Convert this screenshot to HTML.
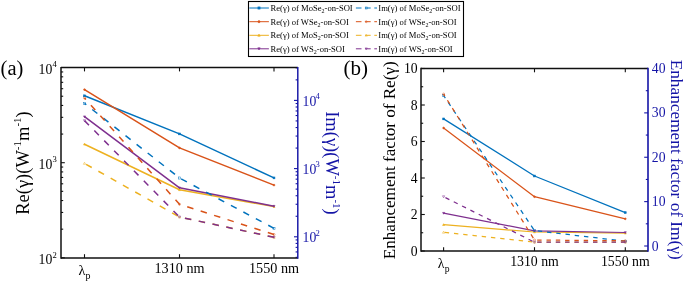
<!DOCTYPE html>
<html><head><meta charset="utf-8"><style>
html,body{margin:0;padding:0;background:#fff;width:685px;height:282px;overflow:hidden}
svg{display:block;font-family:"Liberation Serif", serif;will-change:transform}
</style></head><body>
<svg width="685" height="282" viewBox="0 0 685 282">
<rect width="685" height="282" fill="#fff"/>
<line x1="61.00" y1="257.80" x2="64.80" y2="257.80" stroke="#101010" stroke-width="1.1" />
<line x1="61.00" y1="229.17" x2="63.20" y2="229.17" stroke="#101010" stroke-width="1.1" />
<line x1="61.00" y1="212.43" x2="63.20" y2="212.43" stroke="#101010" stroke-width="1.1" />
<line x1="61.00" y1="200.54" x2="63.20" y2="200.54" stroke="#101010" stroke-width="1.1" />
<line x1="61.00" y1="191.33" x2="63.20" y2="191.33" stroke="#101010" stroke-width="1.1" />
<line x1="61.00" y1="183.80" x2="63.20" y2="183.80" stroke="#101010" stroke-width="1.1" />
<line x1="61.00" y1="177.43" x2="63.20" y2="177.43" stroke="#101010" stroke-width="1.1" />
<line x1="61.00" y1="171.92" x2="63.20" y2="171.92" stroke="#101010" stroke-width="1.1" />
<line x1="61.00" y1="167.05" x2="63.20" y2="167.05" stroke="#101010" stroke-width="1.1" />
<line x1="61.00" y1="162.70" x2="64.80" y2="162.70" stroke="#101010" stroke-width="1.1" />
<line x1="61.00" y1="134.07" x2="63.20" y2="134.07" stroke="#101010" stroke-width="1.1" />
<line x1="61.00" y1="117.33" x2="63.20" y2="117.33" stroke="#101010" stroke-width="1.1" />
<line x1="61.00" y1="105.44" x2="63.20" y2="105.44" stroke="#101010" stroke-width="1.1" />
<line x1="61.00" y1="96.23" x2="63.20" y2="96.23" stroke="#101010" stroke-width="1.1" />
<line x1="61.00" y1="88.70" x2="63.20" y2="88.70" stroke="#101010" stroke-width="1.1" />
<line x1="61.00" y1="82.33" x2="63.20" y2="82.33" stroke="#101010" stroke-width="1.1" />
<line x1="61.00" y1="76.82" x2="63.20" y2="76.82" stroke="#101010" stroke-width="1.1" />
<line x1="61.00" y1="71.95" x2="63.20" y2="71.95" stroke="#101010" stroke-width="1.1" />
<line x1="297.80" y1="257.33" x2="295.60" y2="257.33" stroke="#1414a6" stroke-width="1.1" />
<line x1="297.80" y1="251.93" x2="295.60" y2="251.93" stroke="#1414a6" stroke-width="1.1" />
<line x1="297.80" y1="247.36" x2="295.60" y2="247.36" stroke="#1414a6" stroke-width="1.1" />
<line x1="297.80" y1="243.41" x2="295.60" y2="243.41" stroke="#1414a6" stroke-width="1.1" />
<line x1="297.80" y1="239.92" x2="295.60" y2="239.92" stroke="#1414a6" stroke-width="1.1" />
<line x1="297.80" y1="236.80" x2="294.00" y2="236.80" stroke="#1414a6" stroke-width="1.1" />
<line x1="297.80" y1="216.27" x2="295.60" y2="216.27" stroke="#1414a6" stroke-width="1.1" />
<line x1="297.80" y1="204.26" x2="295.60" y2="204.26" stroke="#1414a6" stroke-width="1.1" />
<line x1="297.80" y1="195.74" x2="295.60" y2="195.74" stroke="#1414a6" stroke-width="1.1" />
<line x1="297.80" y1="189.13" x2="295.60" y2="189.13" stroke="#1414a6" stroke-width="1.1" />
<line x1="297.80" y1="183.73" x2="295.60" y2="183.73" stroke="#1414a6" stroke-width="1.1" />
<line x1="297.80" y1="179.16" x2="295.60" y2="179.16" stroke="#1414a6" stroke-width="1.1" />
<line x1="297.80" y1="175.21" x2="295.60" y2="175.21" stroke="#1414a6" stroke-width="1.1" />
<line x1="297.80" y1="171.72" x2="295.60" y2="171.72" stroke="#1414a6" stroke-width="1.1" />
<line x1="297.80" y1="168.60" x2="294.00" y2="168.60" stroke="#1414a6" stroke-width="1.1" />
<line x1="297.80" y1="148.07" x2="295.60" y2="148.07" stroke="#1414a6" stroke-width="1.1" />
<line x1="297.80" y1="136.06" x2="295.60" y2="136.06" stroke="#1414a6" stroke-width="1.1" />
<line x1="297.80" y1="127.54" x2="295.60" y2="127.54" stroke="#1414a6" stroke-width="1.1" />
<line x1="297.80" y1="120.93" x2="295.60" y2="120.93" stroke="#1414a6" stroke-width="1.1" />
<line x1="297.80" y1="115.53" x2="295.60" y2="115.53" stroke="#1414a6" stroke-width="1.1" />
<line x1="297.80" y1="110.96" x2="295.60" y2="110.96" stroke="#1414a6" stroke-width="1.1" />
<line x1="297.80" y1="107.01" x2="295.60" y2="107.01" stroke="#1414a6" stroke-width="1.1" />
<line x1="297.80" y1="103.52" x2="295.60" y2="103.52" stroke="#1414a6" stroke-width="1.1" />
<line x1="297.80" y1="100.40" x2="294.00" y2="100.40" stroke="#1414a6" stroke-width="1.1" />
<line x1="297.80" y1="79.87" x2="295.60" y2="79.87" stroke="#1414a6" stroke-width="1.1" />
<line x1="297.80" y1="67.86" x2="295.60" y2="67.86" stroke="#1414a6" stroke-width="1.1" />
<line x1="84.50" y1="258.00" x2="84.50" y2="254.20" stroke="#101010" stroke-width="1.1" />
<line x1="84.50" y1="67.60" x2="84.50" y2="71.40" stroke="#101010" stroke-width="1.1" />
<line x1="179.50" y1="258.00" x2="179.50" y2="254.20" stroke="#101010" stroke-width="1.1" />
<line x1="179.50" y1="67.60" x2="179.50" y2="71.40" stroke="#101010" stroke-width="1.1" />
<line x1="274.00" y1="258.00" x2="274.00" y2="254.20" stroke="#101010" stroke-width="1.1" />
<line x1="274.00" y1="67.60" x2="274.00" y2="71.40" stroke="#101010" stroke-width="1.1" />
<line x1="61.00" y1="67.60" x2="297.80" y2="67.60" stroke="#101010" stroke-width="1.5" />
<line x1="61.00" y1="258.00" x2="297.80" y2="258.00" stroke="#101010" stroke-width="1.6" />
<line x1="61.00" y1="66.90" x2="61.00" y2="258.70" stroke="#101010" stroke-width="1.5" />
<line x1="297.80" y1="66.90" x2="297.80" y2="258.70" stroke="#1414a6" stroke-width="1.45" />
<polyline points="84.50,95.80 179.50,133.90 274.00,177.90" fill="none" stroke="#0072BD" stroke-width="1.5" stroke-linejoin="round"/>
<rect x="83.60" y="94.90" width="1.80" height="1.80" fill="#0072BD" stroke="#0072BD" stroke-width="0.6"/>
<rect x="178.60" y="133.00" width="1.80" height="1.80" fill="#0072BD" stroke="#0072BD" stroke-width="0.6"/>
<rect x="273.10" y="177.00" width="1.80" height="1.80" fill="#0072BD" stroke="#0072BD" stroke-width="0.6"/>
<polyline points="84.50,89.60 179.50,147.90 274.00,185.10" fill="none" stroke="#D95319" stroke-width="1.5" stroke-linejoin="round"/>
<circle cx="84.50" cy="89.60" r="0.90" fill="#D95319" stroke="#D95319" stroke-width="0.6"/>
<circle cx="179.50" cy="147.90" r="0.90" fill="#D95319" stroke="#D95319" stroke-width="0.6"/>
<circle cx="274.00" cy="185.10" r="0.90" fill="#D95319" stroke="#D95319" stroke-width="0.6"/>
<polyline points="84.50,144.20 179.50,189.80 274.00,206.60" fill="none" stroke="#EDB120" stroke-width="1.5" stroke-linejoin="round"/>
<polygon points="84.50,143.20 85.50,145.00 83.50,145.00" fill="#EDB120" stroke="#EDB120" stroke-width="0.6"/>
<polygon points="179.50,188.80 180.50,190.60 178.50,190.60" fill="#EDB120" stroke="#EDB120" stroke-width="0.6"/>
<polygon points="274.00,205.60 275.00,207.40 273.00,207.40" fill="#EDB120" stroke="#EDB120" stroke-width="0.6"/>
<polyline points="84.50,116.70 179.50,187.80 274.00,206.20" fill="none" stroke="#7E2F8E" stroke-width="1.5" stroke-linejoin="round"/>
<polygon points="84.50,117.70 85.50,115.90 83.50,115.90" fill="#7E2F8E" stroke="#7E2F8E" stroke-width="0.6"/>
<polygon points="179.50,188.80 180.50,187.00 178.50,187.00" fill="#7E2F8E" stroke="#7E2F8E" stroke-width="0.6"/>
<polygon points="274.00,207.20 275.00,205.40 273.00,205.40" fill="#7E2F8E" stroke="#7E2F8E" stroke-width="0.6"/>
<polyline points="274.00,228.30 179.50,178.00 84.50,103.40" fill="none" stroke="#0072BD" stroke-width="1.5" stroke-dasharray="6.5 7.6" stroke-linejoin="round"/>
<rect x="83.47" y="102.37" width="2.07" height="2.07" fill="none" stroke="#0072BD" stroke-width="0.5"/>
<rect x="178.47" y="176.97" width="2.07" height="2.07" fill="none" stroke="#0072BD" stroke-width="0.5"/>
<rect x="272.96" y="227.27" width="2.07" height="2.07" fill="none" stroke="#0072BD" stroke-width="0.5"/>
<polyline points="274.00,234.50 179.50,204.30 84.50,98.00" fill="none" stroke="#D95319" stroke-width="1.5" stroke-dasharray="6.5 7.6" stroke-linejoin="round"/>
<circle cx="84.50" cy="98.00" r="1.03" fill="none" stroke="#D95319" stroke-width="0.5"/>
<circle cx="179.50" cy="204.30" r="1.03" fill="none" stroke="#D95319" stroke-width="0.5"/>
<circle cx="274.00" cy="234.50" r="1.03" fill="none" stroke="#D95319" stroke-width="0.5"/>
<polyline points="274.00,237.30 179.50,217.00 84.50,163.40" fill="none" stroke="#EDB120" stroke-width="1.5" stroke-dasharray="6.5 7.6" stroke-linejoin="round"/>
<polygon points="84.50,162.25 85.65,164.32 83.35,164.32" fill="none" stroke="#EDB120" stroke-width="0.5"/>
<polygon points="179.50,215.85 180.65,217.92 178.35,217.92" fill="none" stroke="#EDB120" stroke-width="0.5"/>
<polygon points="274.00,236.15 275.15,238.22 272.85,238.22" fill="none" stroke="#EDB120" stroke-width="0.5"/>
<polyline points="274.00,237.30 179.50,217.00 84.50,120.60" fill="none" stroke="#7E2F8E" stroke-width="1.5" stroke-dasharray="6.5 7.6" stroke-linejoin="round"/>
<polygon points="84.50,121.75 85.65,119.68 83.35,119.68" fill="none" stroke="#7E2F8E" stroke-width="0.5"/>
<polygon points="179.50,218.15 180.65,216.08 178.35,216.08" fill="none" stroke="#7E2F8E" stroke-width="0.5"/>
<polygon points="274.00,238.45 275.15,236.38 272.85,236.38" fill="none" stroke="#7E2F8E" stroke-width="0.5"/>
<text x="52.3" y="264.00" font-size="13.7" text-anchor="end" fill="#000">10</text>
<text x="52.6" y="257.50" font-size="8.6" fill="#000">2</text>
<text x="52.3" y="168.90" font-size="13.7" text-anchor="end" fill="#000">10</text>
<text x="52.6" y="162.40" font-size="8.6" fill="#000">3</text>
<text x="52.3" y="73.80" font-size="13.7" text-anchor="end" fill="#000">10</text>
<text x="52.6" y="67.30" font-size="8.6" fill="#000">4</text>
<text x="302.6" y="242.10" font-size="13.7" fill="#1414a6">10</text>
<text x="315.6" y="235.50" font-size="8.6" fill="#1414a6">2</text>
<text x="302.6" y="173.90" font-size="13.7" fill="#1414a6">10</text>
<text x="315.6" y="167.30" font-size="8.6" fill="#1414a6">3</text>
<text x="302.6" y="105.70" font-size="13.7" fill="#1414a6">10</text>
<text x="315.6" y="99.10" font-size="8.6" fill="#1414a6">4</text>
<text x="78.60" y="275.20" font-size="14.2" fill="#000">λ</text>
<text x="85.60" y="279.20" font-size="9.94" fill="#000">p</text>
<text x="179.50" y="273.40" font-size="14.2" text-anchor="middle" fill="#000">1310 nm</text>
<text x="274.00" y="273.40" font-size="14.2" text-anchor="middle" fill="#000">1550 nm</text>
<text x="28.6" y="163" font-size="18.5" text-anchor="middle" fill="#000" transform="rotate(-90 28.6 163)">Re(γ)(W<tspan font-size="11" dy="-7.8">-1</tspan><tspan dy="7.8">m</tspan><tspan font-size="11" dy="-7.8">-1</tspan><tspan dy="7.8">)</tspan></text>
<text x="325.6" y="163" font-size="18.5" text-anchor="middle" fill="#1414a6" transform="rotate(90 325.6 163)">Im(γ)(W<tspan font-size="11" dy="-7.8">-1</tspan><tspan dy="7.8">m</tspan><tspan font-size="11" dy="-7.8">-1</tspan><tspan dy="7.8">)</tspan></text>
<text x="0.6" y="74.7" font-size="20.5" fill="#000">(a)</text>
<line x1="421.00" y1="251.00" x2="424.80" y2="251.00" stroke="#101010" stroke-width="1.1" />
<line x1="421.00" y1="232.75" x2="423.20" y2="232.75" stroke="#101010" stroke-width="1.1" />
<line x1="421.00" y1="214.50" x2="424.80" y2="214.50" stroke="#101010" stroke-width="1.1" />
<line x1="421.00" y1="196.25" x2="423.20" y2="196.25" stroke="#101010" stroke-width="1.1" />
<line x1="421.00" y1="178.00" x2="424.80" y2="178.00" stroke="#101010" stroke-width="1.1" />
<line x1="421.00" y1="159.75" x2="423.20" y2="159.75" stroke="#101010" stroke-width="1.1" />
<line x1="421.00" y1="141.50" x2="424.80" y2="141.50" stroke="#101010" stroke-width="1.1" />
<line x1="421.00" y1="123.25" x2="423.20" y2="123.25" stroke="#101010" stroke-width="1.1" />
<line x1="421.00" y1="105.00" x2="424.80" y2="105.00" stroke="#101010" stroke-width="1.1" />
<line x1="421.00" y1="86.75" x2="423.20" y2="86.75" stroke="#101010" stroke-width="1.1" />
<line x1="421.00" y1="68.50" x2="424.80" y2="68.50" stroke="#101010" stroke-width="1.1" />
<line x1="648.00" y1="246.00" x2="644.20" y2="246.00" stroke="#1414a6" stroke-width="1.1" />
<line x1="648.00" y1="223.81" x2="645.80" y2="223.81" stroke="#1414a6" stroke-width="1.1" />
<line x1="648.00" y1="201.62" x2="644.20" y2="201.62" stroke="#1414a6" stroke-width="1.1" />
<line x1="648.00" y1="179.44" x2="645.80" y2="179.44" stroke="#1414a6" stroke-width="1.1" />
<line x1="648.00" y1="157.25" x2="644.20" y2="157.25" stroke="#1414a6" stroke-width="1.1" />
<line x1="648.00" y1="135.06" x2="645.80" y2="135.06" stroke="#1414a6" stroke-width="1.1" />
<line x1="648.00" y1="112.88" x2="644.20" y2="112.88" stroke="#1414a6" stroke-width="1.1" />
<line x1="648.00" y1="90.69" x2="645.80" y2="90.69" stroke="#1414a6" stroke-width="1.1" />
<line x1="648.00" y1="68.50" x2="644.20" y2="68.50" stroke="#1414a6" stroke-width="1.1" />
<line x1="443.60" y1="251.00" x2="443.60" y2="247.20" stroke="#101010" stroke-width="1.1" />
<line x1="443.60" y1="68.50" x2="443.60" y2="72.30" stroke="#101010" stroke-width="1.1" />
<line x1="534.50" y1="251.00" x2="534.50" y2="247.20" stroke="#101010" stroke-width="1.1" />
<line x1="534.50" y1="68.50" x2="534.50" y2="72.30" stroke="#101010" stroke-width="1.1" />
<line x1="625.30" y1="251.00" x2="625.30" y2="247.20" stroke="#101010" stroke-width="1.1" />
<line x1="625.30" y1="68.50" x2="625.30" y2="72.30" stroke="#101010" stroke-width="1.1" />
<line x1="421.00" y1="68.50" x2="648.00" y2="68.50" stroke="#101010" stroke-width="1.4" />
<line x1="421.00" y1="251.00" x2="648.00" y2="251.00" stroke="#101010" stroke-width="1.4" />
<line x1="421.00" y1="67.80" x2="421.00" y2="251.70" stroke="#101010" stroke-width="1.5" />
<line x1="648.00" y1="67.80" x2="648.00" y2="251.70" stroke="#1414a6" stroke-width="1.6" />
<polyline points="443.60,118.90 534.50,176.00 625.30,212.60" fill="none" stroke="#0072BD" stroke-width="1.25" stroke-linejoin="round"/>
<rect x="442.70" y="118.00" width="1.80" height="1.80" fill="#0072BD" stroke="#0072BD" stroke-width="0.6"/>
<rect x="533.60" y="175.10" width="1.80" height="1.80" fill="#0072BD" stroke="#0072BD" stroke-width="0.6"/>
<rect x="624.40" y="211.70" width="1.80" height="1.80" fill="#0072BD" stroke="#0072BD" stroke-width="0.6"/>
<polyline points="443.60,128.00 534.50,196.70 625.30,218.80" fill="none" stroke="#D95319" stroke-width="1.25" stroke-linejoin="round"/>
<circle cx="443.60" cy="128.00" r="0.90" fill="#D95319" stroke="#D95319" stroke-width="0.6"/>
<circle cx="534.50" cy="196.70" r="0.90" fill="#D95319" stroke="#D95319" stroke-width="0.6"/>
<circle cx="625.30" cy="218.80" r="0.90" fill="#D95319" stroke="#D95319" stroke-width="0.6"/>
<polyline points="443.60,224.70 534.50,232.00 625.30,233.20" fill="none" stroke="#EDB120" stroke-width="1.25" stroke-linejoin="round"/>
<polygon points="443.60,223.70 444.60,225.50 442.60,225.50" fill="#EDB120" stroke="#EDB120" stroke-width="0.6"/>
<polygon points="534.50,231.00 535.50,232.80 533.50,232.80" fill="#EDB120" stroke="#EDB120" stroke-width="0.6"/>
<polygon points="625.30,232.20 626.30,234.00 624.30,234.00" fill="#EDB120" stroke="#EDB120" stroke-width="0.6"/>
<polyline points="443.60,213.20 534.50,230.80 625.30,232.50" fill="none" stroke="#7E2F8E" stroke-width="1.25" stroke-linejoin="round"/>
<polygon points="443.60,214.20 444.60,212.40 442.60,212.40" fill="#7E2F8E" stroke="#7E2F8E" stroke-width="0.6"/>
<polygon points="534.50,231.80 535.50,230.00 533.50,230.00" fill="#7E2F8E" stroke="#7E2F8E" stroke-width="0.6"/>
<polygon points="625.30,233.50 626.30,231.70 624.30,231.70" fill="#7E2F8E" stroke="#7E2F8E" stroke-width="0.6"/>
<polyline points="625.30,241.20 534.50,230.60 443.60,95.50" fill="none" stroke="#0072BD" stroke-width="1.25" stroke-dasharray="4.4 4.9" stroke-linejoin="round"/>
<rect x="442.56" y="94.47" width="2.07" height="2.07" fill="none" stroke="#0072BD" stroke-width="0.5"/>
<rect x="533.47" y="229.56" width="2.07" height="2.07" fill="none" stroke="#0072BD" stroke-width="0.5"/>
<rect x="624.26" y="240.16" width="2.07" height="2.07" fill="none" stroke="#0072BD" stroke-width="0.5"/>
<polyline points="625.30,240.80 534.50,240.00 443.60,94.10" fill="none" stroke="#D95319" stroke-width="1.25" stroke-dasharray="4.4 4.9" stroke-linejoin="round"/>
<circle cx="443.60" cy="94.10" r="1.03" fill="none" stroke="#D95319" stroke-width="0.5"/>
<circle cx="534.50" cy="240.00" r="1.03" fill="none" stroke="#D95319" stroke-width="0.5"/>
<circle cx="625.30" cy="240.80" r="1.03" fill="none" stroke="#D95319" stroke-width="0.5"/>
<polyline points="625.30,242.20 534.50,242.20 443.60,232.30" fill="none" stroke="#EDB120" stroke-width="1.25" stroke-dasharray="4.4 4.9" stroke-linejoin="round"/>
<polygon points="443.60,231.15 444.75,233.22 442.45,233.22" fill="none" stroke="#EDB120" stroke-width="0.5"/>
<polygon points="534.50,241.05 535.65,243.12 533.35,243.12" fill="none" stroke="#EDB120" stroke-width="0.5"/>
<polygon points="625.30,241.05 626.45,243.12 624.15,243.12" fill="none" stroke="#EDB120" stroke-width="0.5"/>
<polyline points="625.30,242.20 534.50,242.20 443.60,196.70" fill="none" stroke="#7E2F8E" stroke-width="1.25" stroke-dasharray="4.4 4.9" stroke-linejoin="round"/>
<polygon points="443.60,197.85 444.75,195.78 442.45,195.78" fill="none" stroke="#7E2F8E" stroke-width="0.5"/>
<polygon points="534.50,243.35 535.65,241.28 533.35,241.28" fill="none" stroke="#7E2F8E" stroke-width="0.5"/>
<polygon points="625.30,243.35 626.45,241.28 624.15,241.28" fill="none" stroke="#7E2F8E" stroke-width="0.5"/>
<text x="417.6" y="255.50" font-size="13.7" text-anchor="end" fill="#000">0</text>
<text x="417.6" y="219.00" font-size="13.7" text-anchor="end" fill="#000">2</text>
<text x="417.6" y="182.50" font-size="13.7" text-anchor="end" fill="#000">4</text>
<text x="417.6" y="146.00" font-size="13.7" text-anchor="end" fill="#000">6</text>
<text x="417.6" y="109.50" font-size="13.7" text-anchor="end" fill="#000">8</text>
<text x="417.6" y="73.00" font-size="13.7" text-anchor="end" fill="#000">10</text>
<text x="651.8" y="250.50" font-size="13.7" fill="#1414a6">0</text>
<text x="651.8" y="206.12" font-size="13.7" fill="#1414a6">10</text>
<text x="651.8" y="161.75" font-size="13.7" fill="#1414a6">20</text>
<text x="651.8" y="117.38" font-size="13.7" fill="#1414a6">30</text>
<text x="651.8" y="73.00" font-size="13.7" fill="#1414a6">40</text>
<text x="437.70" y="267.80" font-size="13.8" fill="#000">λ</text>
<text x="444.70" y="271.80" font-size="9.66" fill="#000">p</text>
<text x="534.50" y="266.00" font-size="13.8" text-anchor="middle" fill="#000">1310 nm</text>
<text x="625.30" y="266.00" font-size="13.8" text-anchor="middle" fill="#000">1550 nm</text>
<text x="394.9" y="160.3" font-size="17.1" text-anchor="middle" fill="#000" transform="rotate(-90 394.9 160.3)">Enhancement factor of Re(γ)</text>
<text x="671" y="159.7" font-size="17.3" text-anchor="middle" fill="#1414a6" transform="rotate(90 671 159.7)">Enhancement factor of Im(γ)</text>
<text x="343.4" y="74.7" font-size="21" fill="#000">(b)</text>
<rect x="248.5" y="1.5" width="215.00" height="55.00" fill="#fff" stroke="#000" stroke-width="1.1"/>
<line x1="249.30" y1="8.00" x2="268.90" y2="8.00" stroke="#0072BD" stroke-width="1.0" />
<rect x="257.92" y="6.92" width="2.16" height="2.16" fill="#0072BD" stroke="#0072BD" stroke-width="0.6"/>
<text x="270.5" y="11.00" font-size="8.6" fill="#000">Re(γ) of MoSe<tspan font-size="6" dy="1.8">2</tspan><tspan dy="-1.8">-on-SOI</tspan></text>
<line x1="355.90" y1="8.00" x2="377.00" y2="8.00" stroke="#0072BD" stroke-width="1.0" stroke-dasharray="5.6 3.6"/>
<rect x="365.21" y="7.01" width="1.98" height="1.98" fill="none" stroke="#0072BD" stroke-width="0.5"/>
<text x="378.3" y="11.00" font-size="8.6" fill="#000">Im(γ) of MoSe<tspan font-size="6" dy="1.8">2</tspan><tspan dy="-1.8">-on-SOI</tspan></text>
<line x1="249.30" y1="21.70" x2="268.90" y2="21.70" stroke="#D95319" stroke-width="1.0" />
<circle cx="259.00" cy="21.70" r="1.08" fill="#D95319" stroke="#D95319" stroke-width="0.6"/>
<text x="270.5" y="24.70" font-size="8.6" fill="#000">Re(γ) of WSe<tspan font-size="6" dy="1.8">2</tspan><tspan dy="-1.8">-on-SOI</tspan></text>
<line x1="355.90" y1="21.70" x2="377.00" y2="21.70" stroke="#D95319" stroke-width="1.0" stroke-dasharray="5.6 3.6"/>
<circle cx="366.20" cy="21.70" r="0.99" fill="none" stroke="#D95319" stroke-width="0.5"/>
<text x="378.3" y="24.70" font-size="8.6" fill="#000">Im(γ) of WSe<tspan font-size="6" dy="1.8">2</tspan><tspan dy="-1.8">-on-SOI</tspan></text>
<line x1="249.30" y1="35.30" x2="268.90" y2="35.30" stroke="#EDB120" stroke-width="1.0" />
<polygon points="259.00,34.10 260.20,36.26 257.80,36.26" fill="#EDB120" stroke="#EDB120" stroke-width="0.6"/>
<text x="270.5" y="38.30" font-size="8.6" fill="#000">Re(γ) of MoS<tspan font-size="6" dy="1.8">2</tspan><tspan dy="-1.8">-on-SOI</tspan></text>
<line x1="355.90" y1="35.30" x2="377.00" y2="35.30" stroke="#EDB120" stroke-width="1.0" stroke-dasharray="5.6 3.6"/>
<polygon points="366.20,34.20 367.30,36.18 365.10,36.18" fill="none" stroke="#EDB120" stroke-width="0.5"/>
<text x="378.3" y="38.30" font-size="8.6" fill="#000">Im(γ) of MoS<tspan font-size="6" dy="1.8">2</tspan><tspan dy="-1.8">-on-SOI</tspan></text>
<line x1="249.30" y1="48.80" x2="268.90" y2="48.80" stroke="#7E2F8E" stroke-width="1.0" />
<polygon points="259.00,50.00 260.20,47.84 257.80,47.84" fill="#7E2F8E" stroke="#7E2F8E" stroke-width="0.6"/>
<text x="270.5" y="51.80" font-size="8.6" fill="#000">Re(γ) of WS<tspan font-size="6" dy="1.8">2</tspan><tspan dy="-1.8">-on-SOI</tspan></text>
<line x1="355.90" y1="48.80" x2="377.00" y2="48.80" stroke="#7E2F8E" stroke-width="1.0" stroke-dasharray="5.6 3.6"/>
<polygon points="366.20,49.90 367.30,47.92 365.10,47.92" fill="none" stroke="#7E2F8E" stroke-width="0.5"/>
<text x="378.3" y="51.80" font-size="8.6" fill="#000">Im(γ) of WS<tspan font-size="6" dy="1.8">2</tspan><tspan dy="-1.8">-on-SOI</tspan></text>
</svg>
</body></html>
